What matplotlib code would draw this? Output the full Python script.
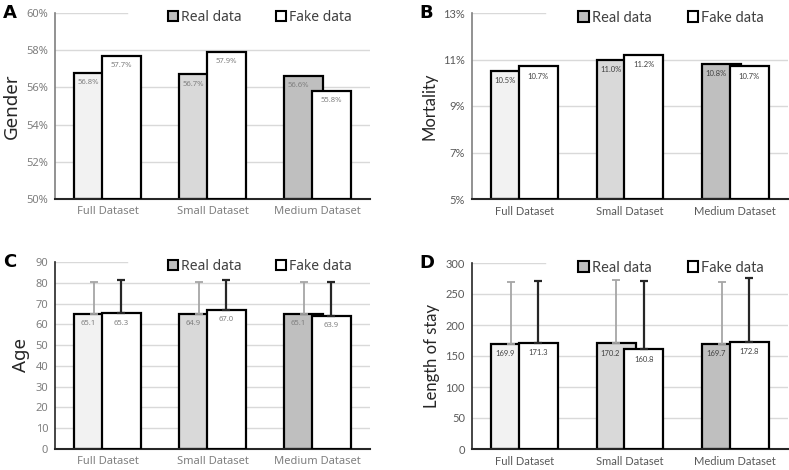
import numpy as np
import matplotlib
matplotlib.use("Agg")
import matplotlib.pyplot as plt
from matplotlib.patches import Patch

categories = ["Full Dataset", "Small Dataset", "Medium Dataset"]

gender_real = [56.8, 56.7, 56.6]
gender_fake = [57.7, 57.9, 55.8]

mortality_real = [10.5, 11.0, 10.8]
mortality_fake = [10.7, 11.2, 10.7]

age_real = [65.1, 64.9, 65.1]
age_fake = [65.3, 67.0, 63.9]
age_real_err = [15.3, 15.5, 15.3]
age_fake_err = [16.0, 14.3, 16.5]

los_real = [169.9, 170.2, 169.7]
los_fake = [171.3, 160.8, 172.8]
los_real_err = [98.9, 102.8, 99.7]
los_fake_err = [100.2, 109.6, 102.5]

real_colors = ["#F2F2F2", "#D9D9D9", "#BFBFBF"]

fig = plt.figure(figsize=(7.89, 4.70), dpi=100)

W, H = 789, 470


def make_ax(left, right, top, bottom):
    return fig.add_axes([left / W, 1 - bottom / H, (right - left) / W, (bottom - top) / H])


def panel(ax, real, fake, ylim, ticks, ticklabels, ylabel, letter, fmt,
          font, spine_col, real_err=None, fake_err=None, lab_col="#595959",
          tick_col="#595959", leg_x=0.65, leg_size=10, ylab_size=12):
    x = np.arange(len(categories))
    w = 0.37
    off = 0.13
    ax.set_xlim(-0.5, 2.5)
    ax.set_ylim(*ylim)
    # gridlines (top one partly hidden behind legend)
    for t in ticks[1:-1]:
        ax.axhline(t, color="#D9D9D9", lw=1, zorder=0)
    ax.axhline(ticks[-1], xmax=0.23, color="#D9D9D9", lw=1, zorder=0)

    ax.bar(x - off, np.array(real) - ylim[0], w, bottom=ylim[0], color=real_colors,
           edgecolor="black", lw=1.6, zorder=2)
    if real_err is not None:
        ax.errorbar(x - off, real, yerr=[np.zeros(3), real_err], fmt="none",
                    ecolor="#A6A6A6", elinewidth=1.3, capsize=3, capthick=1.3, zorder=2.5)
    ax.bar(x + off, np.array(fake) - ylim[0], w, bottom=ylim[0], color="white",
           edgecolor="black", lw=1.6, zorder=3)
    if fake_err is not None:
        ax.errorbar(x + off, fake, yerr=[np.zeros(3), fake_err], fmt="none",
                    ecolor="#262626", elinewidth=1.6, capsize=3, capthick=1.6, zorder=3.5)

    for i in range(3):
        ax.annotate(fmt.format(real[i]), (x[i] - 0.185, real[i]), xytext=(0, -7),
                    textcoords="offset points", ha="center", va="center",
                    fontsize=5.5, color=lab_col, family=font, zorder=5)
        ax.annotate(fmt.format(fake[i]), (x[i] + off, fake[i]), xytext=(0, -7),
                    textcoords="offset points", ha="center", va="center",
                    fontsize=5.5, color=lab_col, family=font, zorder=5)

    ax.set_yticks(ticks)
    ax.set_yticklabels(ticklabels, family=font, fontsize=8, color=tick_col)
    ax.set_xticks(x)
    ax.set_xticklabels(categories, family=font, fontsize=8, color=tick_col)
    ax.tick_params(length=0, pad=5)
    for s in ["top", "right"]:
        ax.spines[s].set_visible(False)
    ax.spines["left"].set_color(spine_col)
    ax.spines["left"].set_linewidth(1.2)
    ax.spines["bottom"].set_color("#262626")
    ax.spines["bottom"].set_linewidth(1.5)
    ax.set_ylabel(ylabel, family=font, fontsize=ylab_size, color="#262626")

    handles = [Patch(facecolor="#BFBFBF", edgecolor="black", lw=1.5, label="Real data"),
               Patch(facecolor="white", edgecolor="black", lw=1.5, label="Fake data")]
    ax.legend(handles=handles, ncol=2, loc="center", bbox_to_anchor=(leg_x, 0.975),
              frameon=False, prop={"family": font, "size": leg_size}, handlelength=0.7,
              handleheight=0.7, handletextpad=0.2, columnspacing=2.5, labelcolor="#404040")
    ax.text(-0.165, 1.0, letter, transform=ax.transAxes, fontsize=13, fontweight="bold",
            family="DejaVu Sans", va="center", ha="left")


fontA = "Noto Sans"
fontB = "Lato"

axA = make_ax(55, 370, 13, 199)
panel(axA, gender_real, gender_fake, (50, 60), [50, 52, 54, 56, 58, 60],
      ["50%", "52%", "54%", "56%", "58%", "60%"], "Gender", "A", "{:.1f}%",
      fontA, "#7F7F7F", lab_col="#7F7F7F", tick_col="#7F7F7F", ylab_size=13.5)

axB = make_ax(472, 788, 13, 199)
panel(axB, mortality_real, mortality_fake, (5, 13), [5, 7, 9, 11, 13],
      ["5%", "7%", "9%", "11%", "13%"], "Mortality", "B", "{:.1f}%",
      fontB, "#7F7F7F", lab_col="#404040", leg_x=0.63, leg_size=10.5)

axC = make_ax(55, 370, 262, 449)
panel(axC, age_real, age_fake, (0, 90), list(range(0, 91, 10)),
      [str(v) for v in range(0, 91, 10)], "Age", "C", "{:.1f}",
      fontA, "#262626", real_err=age_real_err, fake_err=age_fake_err,
      lab_col="#7F7F7F", tick_col="#7F7F7F", ylab_size=13.5)

axD = make_ax(472, 788, 263, 449)
panel(axD, los_real, los_fake, (0, 300), list(range(0, 301, 50)),
      [str(v) for v in range(0, 301, 50)], "Length of stay", "D", "{:.1f}",
      fontB, "#262626", real_err=los_real_err, fake_err=los_fake_err,
      lab_col="#404040", leg_x=0.63, leg_size=10.5)

fig.savefig("out.png", dpi=100)
